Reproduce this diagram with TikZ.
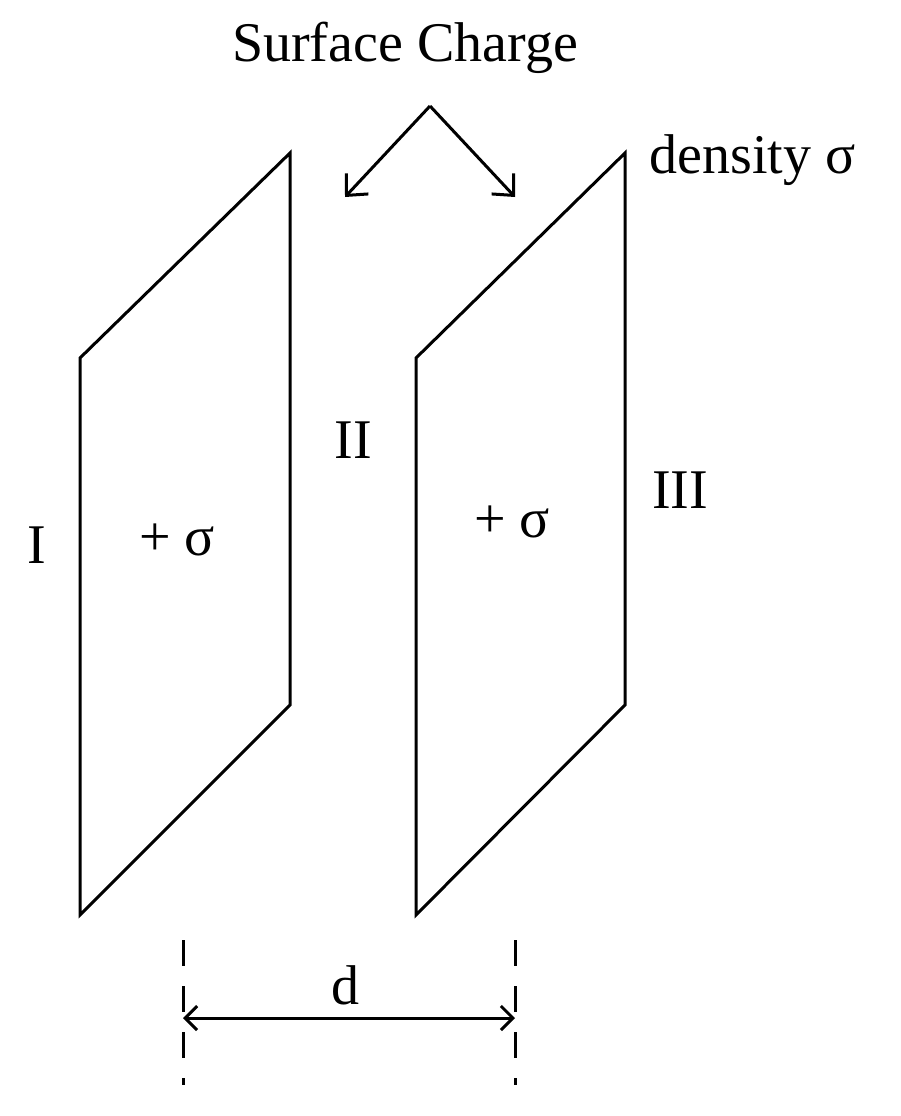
\documentclass[tikz,border=0pt]{standalone}
\usepackage{fontspec}
\setmainfont{Liberation Serif}
\usetikzlibrary{arrows.meta}
\begin{document}
\begin{tikzpicture}[x=1pt,y=-1pt,line width=3pt,
  lbl/.style={font=\fontsize{56}{60}\selectfont,inner sep=0pt},
  arr/.style={-{Straight Barb[length=16pt,width=30pt,line width=3pt]}}]
\useasboundingbox (0,0) rectangle (900,1116);
\coordinate (a1) at (80,358); \coordinate (a2) at (290,153);
\coordinate (a3) at (290,705); \coordinate (a4) at (80,915);
\coordinate (b1) at (416,358); \coordinate (b2) at (625,153);
\coordinate (b3) at (625,705); \coordinate (b4) at (416,915);
\draw[line join=miter] (a1)--(a2)--(a3)--(a4)--cycle;
\draw[line join=miter] (b1)--(b2)--(b3)--(b4)--cycle;
\node[lbl] (sc) at (405,48) {Surface Charge};
\coordinate (apex) at (430,106);
\coordinate (t1) at (345,197); \coordinate (t2) at (515,197);
\draw[arr] (apex)--(t1);
\draw[arr] (apex)--(t2);
\node[lbl,anchor=west] (den) at (648,160) {density σ};
\node[lbl] (r2) at (353,440) {II};
\node[lbl] (r3) at (680,490) {III};
\node[lbl] (r1) at (37,545) {I};
\node[lbl] (s1) at (177,540) {+ σ};
\node[lbl] (s2) at (512,522) {+ σ};
\node[lbl] (d) at (345,985) {d};
\coordinate (d1t) at (183,940); \coordinate (d1b) at (183,1085);
\coordinate (d2t) at (515,940); \coordinate (d2b) at (515,1085);
\draw[dash pattern=on 26pt off 20pt] (d1t)--(d1b);
\draw[dash pattern=on 26pt off 20pt] (d2t)--(d2b);
\coordinate (h1) at (183,1018); \coordinate (h2) at (515,1018);
\draw[{Straight Barb[length=12pt,width=24pt,line width=3pt]}-{Straight Barb[length=12pt,width=24pt,line width=3pt]}] (h1)--(h2);
\end{tikzpicture}
\end{document}
